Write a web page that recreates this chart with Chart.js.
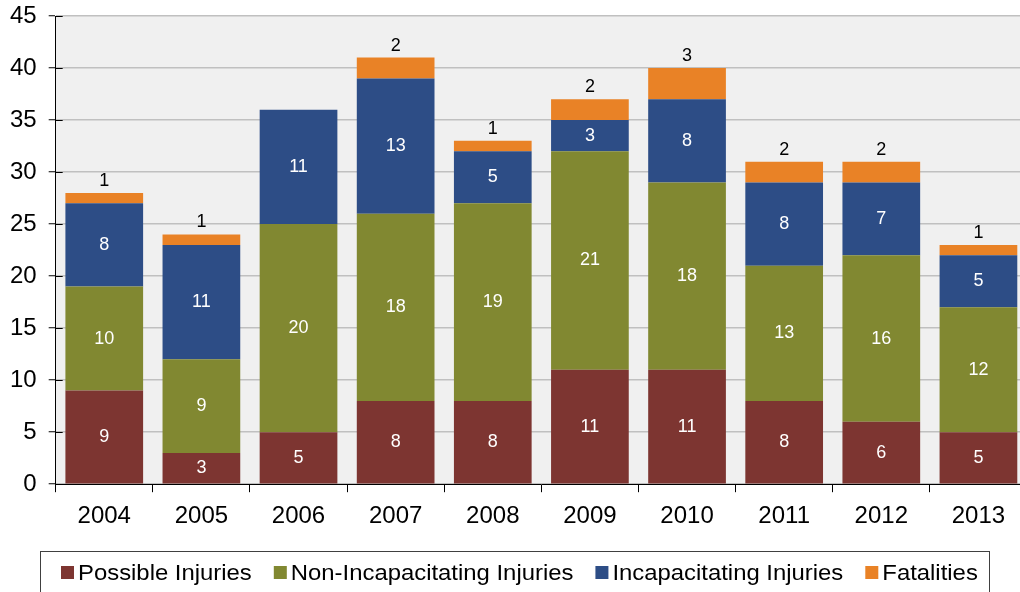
<!DOCTYPE html>
<html><head><meta charset="utf-8">
<script src="https://cdn.jsdelivr.net/npm/chart.js@4.4.1/dist/chart.umd.min.js"></script>
<style>html,body{margin:0;padding:0;background:#fff;overflow:hidden;width:1020px;height:592px}</style>
</head><body>
<canvas id="c" width="1027" height="592"></canvas>
<script>
const years = ['2004','2005','2006','2007','2008','2009','2010','2011','2012','2013'];
const possibleInjuries = [9,3,5,8,8,11,11,8,6,5];
const nonIncapacitating = [10,9,20,18,19,21,18,13,16,12];
const incapacitating = [8,11,11,13,5,3,8,8,7,5];
const fatalities = [1,1,0,2,1,2,3,2,2,1];
const yTicks = [0,5,10,15,20,25,30,35,40,45];

const FONT = '"Liberation Sans", Arial, sans-serif';

const plotBg = {
  id:'plotBg',
  beforeDraw(chart){
    const {ctx, chartArea:a} = chart;
    ctx.save(); ctx.fillStyle='#f0f0f0';
    ctx.fillRect(a.left, a.top, a.right-a.left, a.bottom-a.top);
    ctx.restore();
  }
};
const innerTicks = {
  id:'innerTicks',
  afterDraw(chart){
    const {ctx, chartArea:a, scales:{y}} = chart;
    ctx.save(); ctx.strokeStyle='#000'; ctx.lineWidth=1;
    ctx.beginPath();
    y.ticks.forEach(t=>{
      const py = Math.round(y.getPixelForValue(t.value)) + 0.5;
      ctx.moveTo(a.left, py); ctx.lineTo(a.left + 7, py);
    });
    ctx.stroke(); ctx.restore();
  }
};
const labelsPlugin = {
  id:'labelsPlugin',
  afterDatasetsDraw(chart){
    const ctx = chart.ctx;
    ctx.save();
    ctx.font = '18px ' + FONT;
    ctx.textAlign='center'; ctx.textBaseline='middle';
    chart.data.datasets.forEach((ds, di)=>{
      const meta = chart.getDatasetMeta(di);
      meta.data.forEach((bar, i)=>{
        const v = ds.data[i];
        if (!v) return;
        if (di === 3) {
          ctx.fillStyle = '#000';
          ctx.fillText(String(v), bar.x, bar.y - 12);
        } else {
          ctx.fillStyle = '#fff';
          ctx.fillText(String(v), bar.x, (bar.y + bar.base)/2);
        }
      });
    });
    ctx.restore();
  }
};
const customLegend = {
  id:'customLegend',
  afterDraw(chart){
    const ctx = chart.ctx;
    ctx.save();
    ctx.strokeStyle='#404040'; ctx.lineWidth=1;
    ctx.strokeRect(40.5, 551.5, 949, 50);
    ctx.font = '22px ' + FONT;
    ctx.textBaseline='middle'; ctx.textAlign='left';
    const sx = 1.085;
    let x = 61;
    const cy = 573;
    chart.data.datasets.forEach(ds=>{
      ctx.fillStyle = ds.backgroundColor;
      ctx.fillRect(x, cy-7, 13, 13);
      const tx = x + 17;
      const w = ctx.measureText(ds.label).width * sx;
      ctx.save();
      ctx.translate(tx, cy);
      ctx.scale(sx, 1);
      ctx.fillStyle='#000';
      ctx.fillText(ds.label, 0, 1);
      ctx.restore();
      x = tx + w + 22;
    });
    ctx.restore();
  }
};

new Chart(document.getElementById('c'), {
  type:'bar',
  data:{
    labels: years,
    datasets:[
      {label:'Possible Injuries', data:possibleInjuries, backgroundColor:'#7d3531'},
      {label:'Non-Incapacitating Injuries', data:nonIncapacitating, backgroundColor:'#818831'},
      {label:'Incapacitating Injuries', data:incapacitating, backgroundColor:'#2d4d86'},
      {label:'Fatalities', data:fatalities, backgroundColor:'#e98226'}
    ]
  },
  options:{
    responsive:false,
    animation:false,
    layout:{padding:{left:-2, right:0, top:0, bottom:51}},
    datasets:{bar:{categoryPercentage:1, barPercentage:0.8}},
    scales:{
      x:{
        stacked:true,
        offset:true,
        grid:{offset:true, drawOnChartArea:false, drawTicks:true, tickLength:8, tickColor:'#000', tickWidth:1},
        border:{color:'#000', width:1},
        ticks:{color:'#000', font:{family:FONT, size:24}, padding:10}
      },
      y:{
        stacked:true,
        min:0, max:45,
        afterBuildTicks(axis){ axis.ticks = yTicks.map(v=>({value:v})); },
        afterFit(axis){ axis.paddingTop = 16; },
        grid:{color:'#c0c0c0', lineWidth:1.5, tickColor:'#000', tickLength:7, tickWidth:1},
        border:{color:'#000', width:1},
        ticks:{color:'#000', font:{family:FONT, size:24}, padding:12}
      }
    },
    plugins:{
      legend:{display:false},
      tooltip:{enabled:false}
    }
  },
  plugins:[plotBg, labelsPlugin, innerTicks, customLegend]
});
</script>
</body></html>
